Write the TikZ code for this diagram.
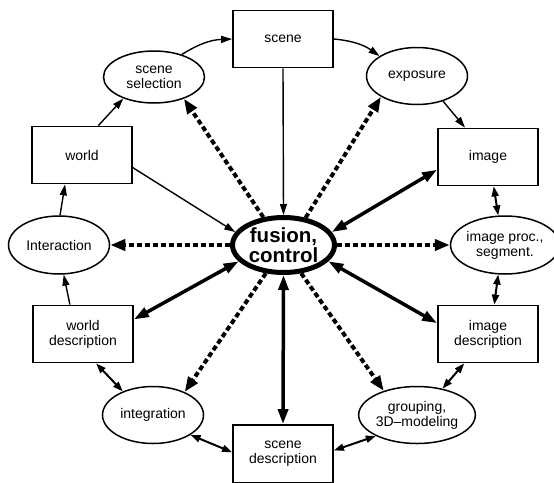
\documentclass[tikz,border=0pt]{standalone}
\usepackage{fontspec}
\setmainfont{Liberation Sans}
\usetikzlibrary{arrows.meta,shapes.geometric}
\begin{document}
\begin{tikzpicture}[x=1pt,y=1pt,
 box/.style={draw,line width=1.8pt,rectangle,minimum width=100pt,minimum height=57pt,inner sep=0pt,align=center,font=\fontsize{14}{15}\selectfont},
 oval/.style={draw,line width=1.5pt,ellipse,minimum width=101pt,minimum height=57pt,inner sep=0pt,align=center,font=\fontsize{14}{15}\selectfont},
 thinarr/.style={line width=1.4pt,-{Triangle[length=11pt,width=7pt]}},
 dblarr/.style={line width=2pt,{Triangle[length=10pt,width=7pt]}-{Triangle[length=10pt,width=7pt]}},
 thickarr/.style={line width=3.5pt,{Triangle[length=15pt,width=10pt]}-{Triangle[length=15pt,width=10pt]}},
 dotarr/.style={line width=4pt,dash pattern=on 5pt off 3pt,-{Triangle[length=15pt,width=11pt]}}
]
\useasboundingbox (0,0) rectangle (554,-482);
% nodes
\node[box] (S) at (283,-39) {scene};
\node[oval,minimum height=52pt] (ss) at (154,-77) {scene\\selection};
\node[box] (W) at (82,-155) {world};
\node[oval,minimum height=58pt] (I) at (59,-245) {Interaction};
\node[draw,ellipse,line width=5pt,minimum width=102pt,minimum height=55pt,inner sep=0pt,align=center,font=\bfseries\fontsize{20.5}{20}\selectfont] (F) at (283.5,-245) {fusion,\\control};
\node[oval] (E) at (417,-76) {exposure};
\node[box] (IM) at (488,-157) {image};
\node[oval,minimum width=96pt,minimum height=58pt] (P) at (505,-245) {image proc.,\\segment.};
\node[box] (WD) at (83,-334) {world\\description};
\node[oval] (IG) at (153,-415) {integration};
\node[box,minimum height=58pt] (SD) at (283,-454) {scene\\description};
\node[box] (ID) at (488,-334) {image\\description};
\node[oval] (G) at (417,-415) {grouping,\\3D--modeling};
% thin arrows
\draw[thinarr] (ss.39) to[bend left=15] (S.west);
\draw[thinarr] (S.east) to[bend left=15] (E.152);
\draw[thinarr] (E.-44) -- (IM.128);
\draw[thinarr] (WD.114) -- (I.-81);
\draw[thinarr] (I.88) -- (W.-120);
\draw[thinarr] (W.61) -- (ss.-145);
\draw[thinarr] (W.-14) -- (F.165);
\draw[thinarr] (S.south) -- (F.north);
% double arrows around the ring
\draw[dblarr] (IM.-79) -- (P.103);
\draw[dblarr] (P.-103) -- (ID.78);
\draw[dblarr] (ID.-129) -- (G.46);
\draw[dblarr] (G.-153) -- (SD.4);
\draw[dblarr] (IG.-28) -- (SD.178);
\draw[dblarr] (WD.-66) -- (IG.142);
% dashed control arrows
\draw[dotarr] (F.126) -- (ss.-36);
\draw[dotarr] (F.51) -- (E.-150);
\draw[dotarr] (F.west) -- (I.east);
\draw[dotarr] (F.east) -- (P.west);
\draw[dotarr] (F.-122) -- (IG.36);
\draw[dotarr] (F.-58) -- (G.144);
% thick double arrows
\draw[thickarr] (F.15.6) -- (IM.-166);
\draw[thickarr] (F.-160.7) -- (WD.16);
\draw[thickarr] (F.-20) -- (ID.168);
\draw[thickarr] (F.south) -- (SD.north);
\end{tikzpicture}
\end{document}
